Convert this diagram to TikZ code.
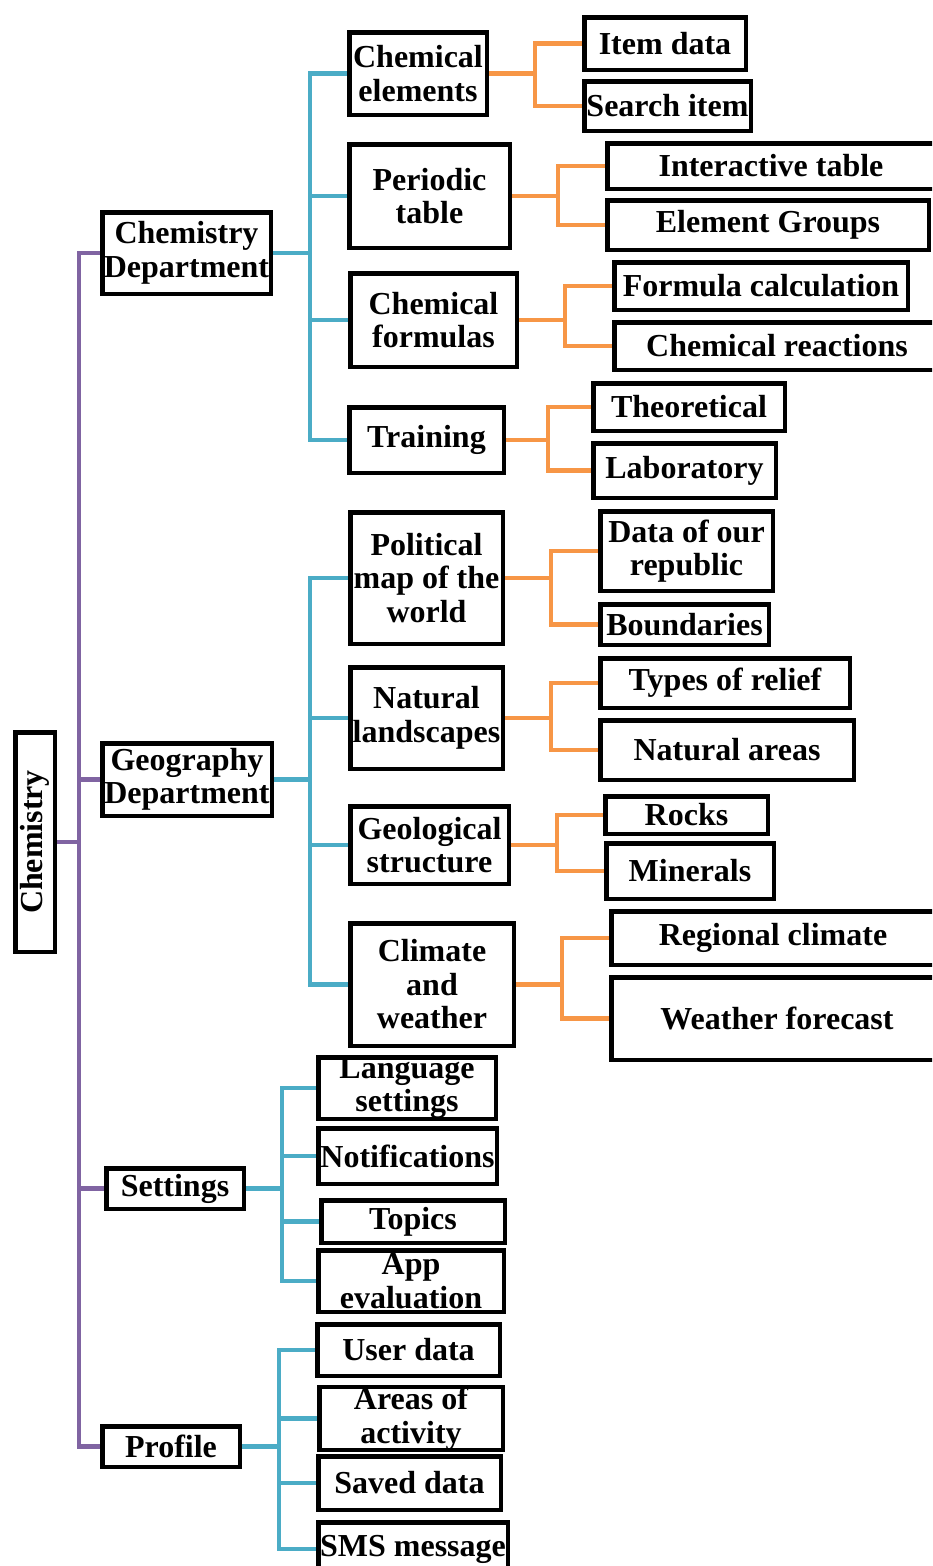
\documentclass[tikz,border=0pt]{standalone}
\usepackage{fontspec}
\setmainfont{Liberation Serif}
\usetikzlibrary{positioning,backgrounds}
\definecolor{rootline}{HTML}{8064A2}
\definecolor{deptline}{HTML}{4BACC6}
\definecolor{leafline}{HTML}{F79646}
\tikzset{
box/.style={
  draw,
  line width=4.5pt,
  align=center,
  inner sep=0pt,
  font=\fontsize{32}{33.5}\selectfont\bfseries
},
sz/.style 2 args={minimum width=#1pt-4.5pt, minimum height=#2pt-4.5pt},
rootlink/.style={draw=rootline, line width=4.5pt},
deptlink/.style={draw=deptline, line width=4.5pt},
leaflink/.style={draw=leafline, line width=4.5pt},
}

\begin{document}
\begin{tikzpicture}[x=1pt, y=-1pt]
                \useasboundingbox (0,0) rectangle (932,1566);
                \clip (0,0) rectangle (932,1566);
                % root and departments
                \node[box, rotate=90, sz={224}{44}] (root) at (35,842) {Chemistry};
                \node[box, sz={173}{86}] (cd) at (186.5,253) {Chemistry\\Department};
                \node[box, sz={174}{77}] (gd) at (187,779.5) {Geography\\Department};
                \node[box, sz={142}{45}] (st) at (175,1188.5) {Settings};
                \node[box, sz={142}{45}] (pf) at (171,1446.5) {Profile};
                % chemistry department
                \node[box, sz={142}{87}] (ce) at (418,73.5) {Chemical\\elements};
                \node[box, sz={165}{108}] (pt) at (429.5,196) {Periodic\\table};
                \node[box, sz={171}{98}] (cf) at (433.5,320) {Chemical\\formulas};
                \node[box, sz={159}{70}] (tr) at (426.5,440) {Training};
                \node[box, sz={166}{57}] (id) at (665,43.5) {Item data};
                \node[box, sz={171}{54}] (si) at (667.5,106) {Search item};
                \node[box, sz={332}{50}] (it) at (771,166) {Interactive table};
                \node[box, sz={326}{54}] (eg) at (768,225) {Element Groups};
                \node[box, sz={298}{52}] (fc) at (761,286) {Formula calculation};
                \node[box, sz={330}{52}] (crx) at (777,346) {Chemical reactions};
                \node[box, sz={196}{52}] (th) at (689,407) {Theoretical};
                \node[box, sz={187}{59}] (lb) at (684.5,470.5) {Laboratory};
                % geography department
                \node[box, sz={157}{136}] (pm) at (426.5,578) {Political\\map of the\\world};
                \node[box, sz={157}{106}] (nl) at (426.5,718) {Natural\\landscapes};
                \node[box, sz={163}{82}] (gs) at (429.5,845) {Geological\\structure};
                \node[box, sz={168}{127}] (cw) at (432,984.5) {Climate\\and\\weather};
                \node[box, sz={177}{84}] (dr) at (686.5,551) {Data of our\\republic};
                \node[box, sz={173}{45}] (bd) at (684.5,624.5) {Boundaries};
                \node[box, sz={254}{54}] (tor) at (725,683) {Types of relief};
                \node[box, sz={258}{64}] (na) at (727,750) {Natural areas};
                \node[box, sz={167}{42}] (rk) at (686.5,815) {Rocks};
                \node[box, sz={172}{60}] (mn) at (690,871) {Minerals};
                \node[box, sz={328}{58}] (rc) at (773,938) {Regional climate};
                \node[box, sz={336}{87}] (wf) at (777,1018.5) {Weather forecast};
                % settings and profile
                \node[box, sz={182}{62}] (ls) at (407,1088) {Language\\settings};
                \node[box, sz={183}{60}] (nt) at (407.5,1156) {Notifications};
                \node[box, sz={188}{47}] (tp) at (413,1221.5) {Topics};
                \node[box, sz={190}{66}] (ae) at (411,1281) {App\\evaluation};
                \node[box, sz={187}{56}] (ud) at (408.5,1350) {User data};
                \node[box, sz={188}{61}] (aa) at (411,1418.5) {Areas of\\activity};
                \node[box, sz={187}{58}] (sd) at (409.5,1483) {Saved data};
                \node[box, sz={194}{58}] (sms) at (413,1549) {SMS message};
                % junctions
                \coordinate (jroot) at (79,842);
                \coordinate (jcd) at (310,253);
                \coordinate (jgd) at (310,779.5);
                \coordinate (jst) at (282,1188.5);
                \coordinate (jpf) at (279,1446.5);
                \coordinate (jce) at (535,73.5);
                \coordinate (jpt) at (558,196);
                \coordinate (jcf) at (565,320);
                \coordinate (jtr) at (548,440);
                \coordinate (jpm) at (551,578);
                \coordinate (jnl) at (551,718);
                \coordinate (jgs) at (557,845);
                \coordinate (jcw) at (562,984.5);
                \begin{scope}[on background layer]
                    \draw[rootlink] (root) -- (jroot);
                    \foreach \n in {cd,gd,st,pf} \draw[rootlink] (jroot) |- (\n);
                    \draw[deptlink] (cd) -- (jcd);
                    \foreach \n in {ce,pt,cf,tr} \draw[deptlink] (jcd) |- (\n);
                    \draw[deptlink] (gd) -- (jgd);
                    \foreach \n in {pm,nl,gs,cw} \draw[deptlink] (jgd) |- (\n);
                    \draw[deptlink] (st) -- (jst);
                    \foreach \n in {ls,nt,tp,ae} \draw[deptlink] (jst) |- (\n);
                    \draw[deptlink] (pf) -- (jpf);
                    \foreach \n in {ud,aa,sd,sms} \draw[deptlink] (jpf) |- (\n);
                    \foreach \p/\a/\b in {ce/id/si, pt/it/eg, cf/fc/crx, tr/th/lb, pm/dr/bd, nl/tor/na, gs/rk/mn, cw/rc/wf} {
                        \draw[leaflink] (\p) -- (j\p);
                        \draw[leaflink] (j\p) |- (\a);
                        \draw[leaflink] (j\p) |- (\b);
                    }
                \end{scope}
            \end{tikzpicture}
\end{document}
